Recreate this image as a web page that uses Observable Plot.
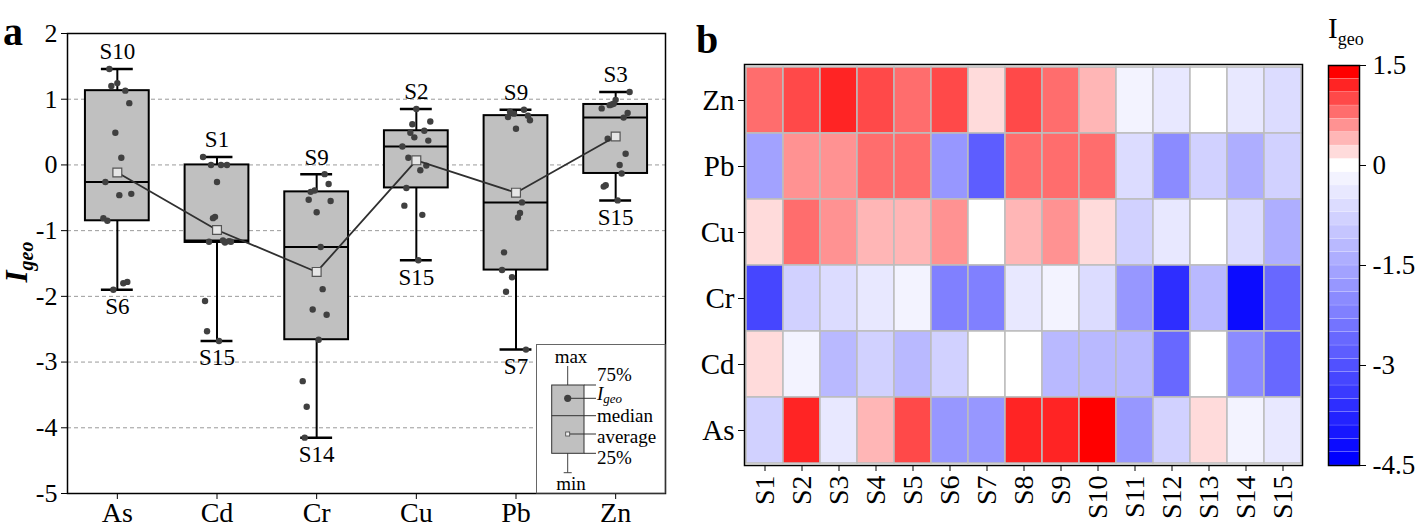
<!DOCTYPE html>
<html><head><meta charset="utf-8">
<script src="https://cdn.jsdelivr.net/npm/d3@7"></script>
<script src="https://cdn.jsdelivr.net/npm/@observablehq/plot@0.6"></script>
<style>
body{margin:0;background:#fff;font-family:"Liberation Serif","Times New Roman",serif;}
#wrap{position:relative;width:1419px;height:528px;overflow:hidden;background:#fff;}
.abs{position:absolute;top:0;}
.panel{position:absolute;font-weight:bold;font-size:40px;line-height:1;}
</style></head><body><div id="wrap"></div>
<script>
// ---- data ----
const sites = ["S1","S2","S3","S4","S5","S6","S7","S8","S9","S10","S11","S12","S13","S14","S15"];
const metals = ["As","Cd","Cr","Cu","Pb","Zn"];
const heatRows = ["Zn","Pb","Cu","Cr","Cd","As"];
const As = [-0.81, 1.245, -0.44, 0.49, 0.94, -1.90, -1.78, 1.20, 1.13, 1.46, -1.80, -0.85, 0.11, -0.26, -0.46];
const Cd = [0.12, -0.26, -1.17, -0.79, -1.16, -0.81, 0.0, 0.0, -1.18, -1.17, -1.15, -2.53, 0.0, -2.07, -2.68];
const Cr = [-3.29, -0.72, -0.55, -0.39, -0.29, -2.20, -2.28, -0.41, -0.14, -0.53, -1.89, -3.68, -1.25, -4.15, -2.66];
const Cu = [0.28, 0.85, 0.66, 0.42, 0.37, 0.62, -0.01, 0.49, 0.52, 0.11, -0.76, -0.35, -0.08, -0.62, -1.45];
const Pb = [-1.60, 0.55, 0.68, 0.78, 0.75, -1.71, -2.81, 0.81, 0.84, 0.73, -0.57, -1.93, -0.73, -1.33, -0.80];
const Zn = [0.86, 0.99, 1.11, 0.93, 0.79, 0.92, 0.17, 0.91, 0.72, 0.40, -0.13, -0.31, 0.0, -0.33, -0.54];
const yTicks = [2,1,0,-1,-2,-3,-4,-5];
const gridValues = [1,0,-1,-2,-3,-4];
const colorbarTicks = [1.5,0,-1.5,-3,-4.5];
const legendLabels = ["max","75%","median","average","25%","min"];

const series = {As, Cd, Cr, Cu, Pb, Zn};
const FONT = '"Liberation Serif","Times New Roman",serif';

// quantile with position p*(n+1)
function quant(s, p){
  const n = s.length, pos = p*(n+1);
  const lo = Math.floor(pos), hi = Math.ceil(pos);
  const g = k => s[Math.max(0, Math.min(n-1, k-1))];
  return g(lo) + (g(hi)-g(lo))*(pos-lo);
}
const stats = metals.map((m,i)=>{
  const v = series[m]; const s = v.slice().sort(d3.ascending);
  return {metal:m, i:i+1, min:s[0], max:s[s.length-1], q1:quant(s,.25), med:quant(s,.5), q3:quant(s,.75),
          mean:d3.mean(v), maxSite:sites[d3.maxIndex(v)], minSite:sites[d3.minIndex(v)]};
});
const points = metals.flatMap((m,i)=>series[m].map((v,j)=>({metal:m, i:i+1, j, v})));
const jitter = d => d.i + (((d.j*7)%15)/14 - 0.5)*0.28;

const wrap = document.getElementById("wrap");
function setAxisFont(svg, axis, size){
  d3.select(svg).selectAll(`g[aria-label^="${axis}-axis"] text`).style("font-size", size + "px");
}

// ---- panel a ----
const left = Plot.plot({
  width: 690, height: 528, marginLeft: 67, marginRight: 25, marginTop: 33, marginBottom: 35,
  style: {fontFamily: FONT, fontSize: "24px", color: "black", background: "transparent", overflow: "visible"},
  x: {domain: [0.5, 6.5], ticks: d3.range(1,7), tickFormat: d => metals[d-1], tickSize: 6, tickPadding: 3, label: null},
  y: {domain: [-5, 2], ticks: yTicks, tickFormat: d => String(d), tickSize: 6, tickPadding: 4, label: null},
  marks: [
    Plot.ruleY(gridValues, {stroke: "#9a9a9a", strokeDasharray: "4,3", strokeWidth: 1}),
    Plot.ruleX(stats, {x: "i", y1: "min", y2: "max", stroke: "black", strokeWidth: 2}),
    Plot.rect(stats, {x1: d => d.i-0.32, x2: d => d.i+0.32, y1: "q1", y2: "q3", fill: "#c0c0c0", stroke: "black", strokeWidth: 2}),
    Plot.ruleY(stats, {y: "med", x1: d => d.i-0.32, x2: d => d.i+0.32, stroke: "black", strokeWidth: 2}),
    Plot.ruleY(stats, {y: "max", x1: d => d.i-0.16, x2: d => d.i+0.16, stroke: "black", strokeWidth: 2.5}),
    Plot.ruleY(stats, {y: "min", x1: d => d.i-0.16, x2: d => d.i+0.16, stroke: "black", strokeWidth: 2.5}),
    Plot.dot(points, {x: jitter, y: "v", r: 3.2, fill: "#404040"}),
    Plot.line(stats, {x: "i", y: "mean", stroke: "#303030", strokeWidth: 1.8}),
    Plot.dot(stats, {x: "i", y: "mean", symbol: "square", r: 5, fill: "#e6e6e6", stroke: "#555", strokeWidth: 1.2}),
    Plot.text(stats, {x: "i", y: "max", text: "maxSite", dy: -17, fontSize: 23}),
    Plot.text(stats, {x: "i", y: "min", text: "minSite", dy: 17, fontSize: 23}),
    Plot.frame({stroke: "black", strokeWidth: 1.5})
  ]
});
left.classList.add("abs"); left.style.left = "0px";
wrap.appendChild(left);
setAxisFont(left, "x", 28);
setAxisFont(left, "y", 26);

// y label I_geo
const ls = d3.select(left);
const yl = ls.append("text").attr("transform","translate(27,262) rotate(-90)").attr("text-anchor","middle")
  .attr("font-family", FONT).attr("font-weight","bold").attr("font-style","italic").attr("fill","black");
yl.append("tspan").attr("font-size",31).text("I");
yl.append("tspan").attr("font-size",20).attr("dy",6).text("geo");

// legend box (panel a)
const lg = ls.append("g").attr("font-family", FONT).attr("font-size", 19).attr("fill","black").attr("text-anchor","start");
lg.append("rect").attr("x",536.5).attr("y",344.5).attr("width",128.5).attr("height",148.5).attr("fill","white").attr("stroke","#666").attr("stroke-width",1);
const cx = 567.7;
lg.append("line").attr("x1",cx).attr("x2",cx).attr("y1",366).attr("y2",472.7).attr("stroke","#444").attr("stroke-width",1);
lg.append("line").attr("x1",cx-4).attr("x2",cx+4).attr("y1",472.7).attr("y2",472.7).attr("stroke","#444").attr("stroke-width",1);
lg.append("rect").attr("x",551.7).attr("y",385).attr("width",32.3).attr("height",68.3).attr("fill","#c0c0c0").attr("stroke","#333").attr("stroke-width",1);
lg.append("line").attr("x1",551.7).attr("x2",596).attr("y1",415.7).attr("y2",415.7).attr("stroke","#333").attr("stroke-width",1);
lg.append("line").attr("x1",584).attr("x2",596).attr("y1",385).attr("y2",385).attr("stroke","#333").attr("stroke-width",1);
lg.append("line").attr("x1",584).attr("x2",596).attr("y1",453.3).attr("y2",453.3).attr("stroke","#333").attr("stroke-width",1);
lg.append("line").attr("x1",cx).attr("x2",596).attr("y1",398.3).attr("y2",398.3).attr("stroke","#333").attr("stroke-width",1);
lg.append("line").attr("x1",cx).attr("x2",596).attr("y1",434).attr("y2",434).attr("stroke","#333").attr("stroke-width",1);
lg.append("circle").attr("cx",cx).attr("cy",398.3).attr("r",3.6).attr("fill","#404040");
lg.append("rect").attr("x",cx-2).attr("y",432).attr("width",4).attr("height",4).attr("fill","#eee").attr("stroke","#444").attr("stroke-width",0.8);
lg.append("text").attr("x",571).attr("y",359).attr("text-anchor","middle").attr("dominant-baseline","middle").text(legendLabels[0]);
lg.append("text").attr("x",597).attr("y",377).attr("text-anchor","start").attr("dominant-baseline","middle").text(legendLabels[1]);
const ig = lg.append("text").attr("x",597).attr("y",396).attr("text-anchor","start").attr("dominant-baseline","middle").attr("font-style","italic");
ig.append("tspan").text("I"); ig.append("tspan").attr("font-size",13).attr("dy",4).text("geo");
lg.append("text").attr("x",597).attr("y",418).attr("text-anchor","start").attr("dominant-baseline","middle").text(legendLabels[2]);
lg.append("text").attr("x",597).attr("y",439).attr("text-anchor","start").attr("dominant-baseline","middle").text(legendLabels[3]);
lg.append("text").attr("x",597).attr("y",460).attr("text-anchor","start").attr("dominant-baseline","middle").text(legendLabels[4]);
lg.append("text").attr("x",571).attr("y",486).attr("text-anchor","middle").attr("dominant-baseline","middle").text(legendLabels[5]);

// ---- panel b: heatmap ----
const thresholds = d3.range(29).map(k => Math.round((-4.3 + 0.2*k)*10)/10);
const nBlue = 22, nRed = 7;
const colorRange = [];
for (let k=0;k<nBlue;k++){ const l = Math.round(255*k/nBlue); colorRange.push(`rgb(${l},${l},255)`); }
colorRange.push("rgb(255,255,255)");
for (let k=nRed-1;k>=0;k--){ const l = Math.round(255*k/nRed); colorRange.push(`rgb(255,${l},${l})`); }
const colorScale = {type: "threshold", domain: thresholds, range: colorRange};

const heatData = heatRows.flatMap(m => series[m].map((v,j)=>({metal:m, site:sites[j], v})));
const heat = Plot.plot({
  width: 630, height: 528, marginLeft: 54, marginRight: 18, marginTop: 64, marginBottom: 63,
  style: {fontFamily: FONT, fontSize: "28px", color: "black", background: "transparent", overflow: "visible"},
  x: {domain: sites, padding: 0, tickRotate: -90, tickSize: 6, tickPadding: 4, label: null},
  y: {domain: heatRows, padding: 0, tickSize: 6, tickPadding: 4, label: null},
  color: colorScale,
  marks: [
    Plot.cell(heatData, {x: "site", y: "metal", fill: "v", stroke: "#bdbdbd", strokeWidth: 1.5}),
    Plot.frame({stroke: "black", strokeWidth: 1.5})
  ]
});
heat.classList.add("abs"); heat.style.left = "690px";
wrap.appendChild(heat);
setAxisFont(heat, "x", 28);
setAxisFont(heat, "y", 29);

// ---- colorbar ----
const bandEdges = [-4.5, ...thresholds, 1.5];
const bands = d3.pairs(bandEdges).map(([lo,hi]) => ({lo, hi, mid: (lo+hi)/2}));
const cbar = Plot.plot({
  width: 99, height: 528, marginLeft: 8, marginRight: 60, marginTop: 65, marginBottom: 63,
  style: {fontFamily: FONT, fontSize: "26px", color: "black", background: "transparent", overflow: "visible"},
  x: {domain: [0,1], axis: null},
  y: {domain: [-4.5, 1.5], axis: "right", ticks: colorbarTicks, tickFormat: d => String(d), tickSize: 6, tickPadding: 7, label: null},
  color: colorScale,
  marks: [
    Plot.rect(bands, {x1: 0, x2: 1, y1: "lo", y2: "hi", fill: "mid", stroke: "white", strokeOpacity: 0.25, strokeWidth: 0.6}),
    Plot.frame({stroke: "black", strokeWidth: 1.5})
  ]
});
cbar.classList.add("abs"); cbar.style.left = "1320px";
wrap.appendChild(cbar);
setAxisFont(cbar, "y", 27);

// titles
const a = document.createElement("div"); a.className = "panel"; a.style.left = "3px"; a.style.top = "12px"; a.textContent = "a"; wrap.appendChild(a);
const b = document.createElement("div"); b.className = "panel"; b.style.left = "696px"; b.style.top = "20px"; b.textContent = "b"; wrap.appendChild(b);
const t = document.createElement("div");
t.style.cssText = `position:absolute;left:1328px;top:14px;font-family:${FONT};font-size:29px;line-height:1;`;
t.innerHTML = 'I<sub style="font-size:18px;">geo</sub>';
wrap.appendChild(t);
</script></body></html>
